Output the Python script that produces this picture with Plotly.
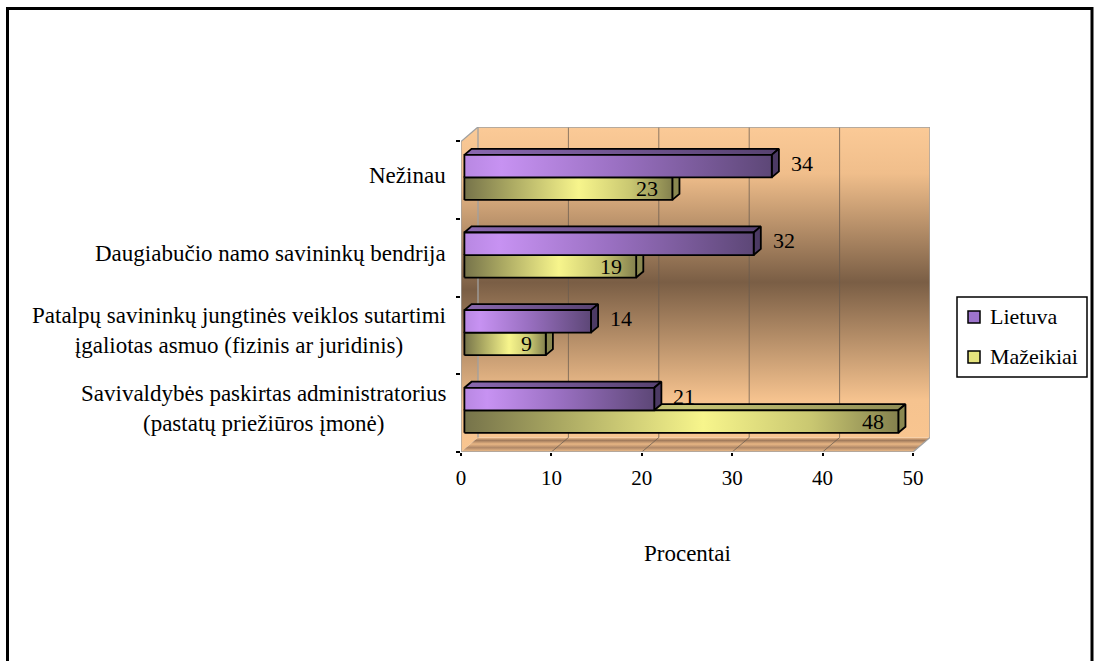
import plotly.graph_objects as go

# Survey: who manages the apartment building (percent of respondents)
categories = [
    "Savivaldybės paskirtas administratorius<br>(pastatų priežiūros įmonė)",
    "Patalpų savininkų jungtinės veiklos sutartimi<br>įgaliotas asmuo (fizinis ar juridinis)",
    "Daugiabučio namo savininkų bendrija",
    "Nežinau",
]
lietuva = [21, 14, 32, 34]
mazeikiai = [48, 9, 19, 23]
series_names = ["Lietuva", "Mažeikiai"]
x_ticks = [0, 10, 20, 30, 40, 50]

FONT = "Liberation Serif"
FS = 22
W, H = 1094, 661
ML, MR, MT, MB = 461, 164, 127, 209
PW, PH = W - ML - MR, H - MT - MB

# 3-D depth of the chart box, in axis units
DX, DY = 1.88, 0.1865
XMAX = 50
Y0, Y1 = -0.5, len(categories) - 0.5

# bar placement inside the depth
FRONT = 0.2
DEPTH = 0.42
BAR_H = 0.29


def px_x(p):
    return (p - ML) / PW


def px_y(p):
    return (H - MB - p) / PH


fig = go.Figure()


def poly(xs, ys, fill=None, grad=None, line_color="black", line_width=0):
    kw = dict(
        x=list(xs) + [xs[0]], y=list(ys) + [ys[0]],
        mode="lines", fill="toself", hoverinfo="skip", showlegend=False,
        line=dict(color=line_color, width=line_width),
    )
    if grad is not None:
        kw["fillgradient"] = grad
        kw["fillcolor"] = grad["colorscale"][0][1]
    else:
        kw["fillcolor"] = fill
    fig.add_trace(go.Scatter(**kw))


wall_scale = [[0, "#f8c590"], [0.12, "#f6c38f"], [0.5, "#7a5e45"],
              [0.85, "#f0be8b"], [1, "#fbca97"]]

# back wall
poly([DX, XMAX + DX, XMAX + DX, DX], [Y0 + DY, Y0 + DY, Y1 + DY, Y1 + DY],
     grad=dict(type="vertical", colorscale=wall_scale), line_width=0)
# left side wall
poly([0, DX, DX, 0], [Y0, Y0 + DY, Y1 + DY, Y1],
     grad=dict(type="vertical", colorscale=wall_scale), line_width=0)
# floor
poly([0, XMAX, XMAX + DX, DX], [Y0, Y0, Y0 + DY, Y0 + DY],
     grad=dict(type="vertical", colorscale=[[0, "#f6c48f"], [0.3, "#b08868"],
                                            [0.55, "#e8b684"], [0.8, "#a07a5c"],
                                            [1, "#f2bf8c"]]), line_width=0)

# gridlines on the back wall and the floor
gx, gy = [], []
for t in x_ticks[1:-1]:
    gx += [t + DX, t + DX, None, t, t + DX, None]
    gy += [Y0 + DY, Y1 + DY, None, Y0, Y0 + DY, None]
fig.add_trace(go.Scatter(x=gx, y=gy, mode="lines", hoverinfo="skip", showlegend=False,
                         line=dict(color="rgba(105,92,80,0.75)", width=1)))

# gray box edges
ex = [DX, DX, XMAX + DX, XMAX + DX, XMAX, None, 0, DX, None, 0, 0, None, 0, XMAX]
ey = [Y0 + DY, Y1 + DY, Y1 + DY, Y0 + DY, Y0, None, Y1, Y1 + DY, None, Y0, Y1, None, Y0, Y0]
fig.add_trace(go.Scatter(x=ex, y=ey, mode="lines", hoverinfo="skip", showlegend=False,
                         line=dict(color="#a0a0a0", width=1.3)))

styles = {
    "Lietuva": dict(
        front=[[0, "#b888e2"], [0.12, "#c792f2"], [0.5, "#9a70c2"], [1, "#5d4777"]],
        top=[[0, "#8a68b0"], [1, "#574270"]],
        side="#4c3a64",
    ),
    "Mažeikiai": dict(
        front=[[0, "#76734a"], [0.22, "#aaa862"], [0.55, "#f7f58c"],
               [0.8, "#c9c771"], [1, "#84814e"]],
        top=[[0, "#9c9a5a"], [0.5, "#c8c676"], [1, "#8e8c54"]],
        side="#8a8850",
    ),
}

fx, fy = FRONT * DX, FRONT * DY
bdx, bdy = DEPTH * DX, DEPTH * DY


def bar(v, ylo, name):
    st = styles[name]
    x0, x1 = fx, v + fx
    y0, y1 = ylo, ylo + BAR_H
    # top face
    poly([x0, x1, x1 + bdx, x0 + bdx], [y1, y1, y1 + bdy, y1 + bdy],
         grad=dict(type="horizontal", colorscale=st["top"]), line_width=1.8)
    # right side face
    poly([x1, x1 + bdx, x1 + bdx, x1], [y0, y0 + bdy, y1 + bdy, y1],
         fill=st["side"], line_width=1.8)
    # front face
    poly([x0, x1, x1, x0], [y0, y0, y1, y1],
         grad=dict(type="horizontal", colorscale=st["front"]), line_width=1.8)


annotations = []
for k, cat in enumerate(categories):
    yc = k + fy
    bar(mazeikiai[k], yc - BAR_H, "Mažeikiai")
    bar(lietuva[k], yc, "Lietuva")
    annotations.append(dict(x=lietuva[k] + fx, y=yc + BAR_H / 2, text=str(lietuva[k]),
                            xanchor="left", yanchor="middle", xshift=17, yshift=3,
                            showarrow=False, font=dict(family=FONT, size=FS, color="black")))
    annotations.append(dict(x=mazeikiai[k] + fx, y=yc - BAR_H / 2, text=str(mazeikiai[k]),
                            xanchor="right", yanchor="middle", xshift=-12, yshift=0,
                            showarrow=False, font=dict(family=FONT, size=FS, color="black")))
    annotations.append(dict(x=px_x(448), xref="paper", y=yc, yref="y", text=cat,
                            xanchor="right", yanchor="middle", align="center", yshift=2,
                            showarrow=False, font=dict(family=FONT, size=23, color="black")))

# axis title
annotations.append(dict(x=px_x(687), y=px_y(553), xref="paper", yref="paper",
                        text="Procentai", showarrow=False, xanchor="center", yanchor="middle",
                        font=dict(family=FONT, size=23, color="black")))

shapes = []
# outer frame
shapes.append(dict(type="rect", xref="paper", yref="paper",
                   x0=px_x(7.5), x1=px_x(1092), y0=px_y(675), y1=px_y(8.5),
                   line=dict(color="black", width=3), fillcolor="rgba(0,0,0,0)", layer="below"))

# legend box
shapes.append(dict(type="rect", xref="paper", yref="paper",
                   x0=px_x(957), x1=px_x(1087), y0=px_y(377), y1=px_y(297),
                   line=dict(color="black", width=1.5), fillcolor="white"))
legend_cols = {"Lietuva": "#9d74cc", "Mažeikiai": "#e6e47e"}
for name, yy in zip(series_names, [317, 357]):
    shapes.append(dict(type="rect", xref="paper", yref="paper",
                       x0=px_x(968), x1=px_x(980), y0=px_y(yy + 6), y1=px_y(yy - 6),
                       line=dict(color="black", width=1.5), fillcolor=legend_cols[name]))
    annotations.append(dict(x=px_x(988), y=px_y(yy - 1), xref="paper", yref="paper",
                            text=name, showarrow=False, xanchor="left", yanchor="middle",
                            font=dict(family=FONT, size=FS, color="black")))

fig.update_layout(
    width=W, height=H,
    margin=dict(l=ML, r=MR, t=MT, b=MB),
    paper_bgcolor="white", plot_bgcolor="rgba(0,0,0,0)",
    showlegend=False,
    annotations=annotations,
    shapes=shapes,
    xaxis=dict(range=[0, XMAX + DX], tickvals=x_ticks, ticktext=[str(t) for t in x_ticks],
               showgrid=False, zeroline=False, showline=False,
               ticks="outside", ticklen=3, tickcolor="black", tickwidth=1.5,
               ticklabelstandoff=4,
               tickfont=dict(family=FONT, size=21, color="black"), fixedrange=True),
    yaxis=dict(range=[Y0, Y1 + DY],
               tickvals=[i - 0.5 for i in range(len(categories) + 1)],
               showticklabels=False, showgrid=False, zeroline=False, showline=False,
               ticks="outside", ticklen=4, tickcolor="black", tickwidth=1.5,
               fixedrange=True),
)

fig.write_html("out.html")
